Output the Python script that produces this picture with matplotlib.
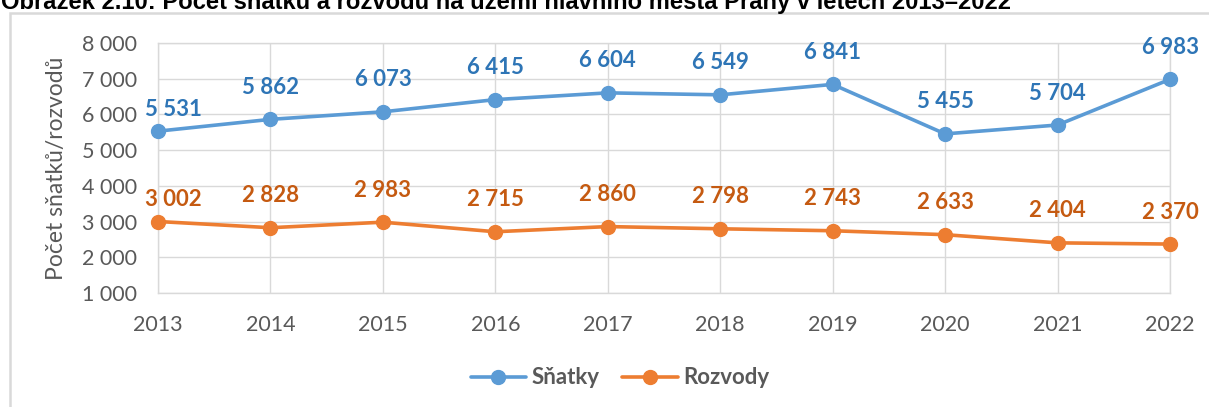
import matplotlib.pyplot as plt
from matplotlib.patches import Rectangle

years = [2013, 2014, 2015, 2016, 2017, 2018, 2019, 2020, 2021, 2022]
snatky = [5531, 5862, 6073, 6415, 6604, 6549, 6841, 5455, 5704, 6983]
rozvody = [3002, 2828, 2983, 2715, 2860, 2798, 2743, 2633, 2404, 2370]
yticks = [1000, 2000, 3000, 4000, 5000, 6000, 7000, 8000]

title = "Obrázek 2.10: Počet sňatků a rozvodů na území hlavního města Prahy v letech 2013–2022"
ylabel = "Počet sňatků/rozvodů"

plt.rcParams['font.family'] = ['Lato', 'DejaVu Sans']

def fmt(v):
    return f"{v:,}".replace(",", " ")

W, H = 1209, 407
fig = plt.figure(figsize=(W / 100, H / 100), dpi=100)
ax = fig.add_axes([158 / W, 1 - 293 / H, (1170 - 158) / W, (293 - 43) / H])

gray = '#595959'
grid_c = '#D9D9D9'
series = [
    ("Sňatky", snatky, '#5B9BD5', '#2E75B6'),
    ("Rozvody", rozvody, '#ED7D31', '#C55A11'),
]
for name, vals, lc, tc in series:
    ax.plot(years, vals, color=lc, lw=2.6, marker='o', ms=10, label=name,
            solid_capstyle='round', clip_on=False, zorder=3)
    for i, (x, v) in enumerate(zip(years, vals)):
        # first labels sit a bit lower and pushed inside the plot
        off = (11, 15.5) if i == 0 else (0, 23)
        ax.annotate(fmt(v), (x, v), xytext=off, textcoords='offset points',
                    ha='center', va='center', color=tc, fontsize=16,
                    fontweight='bold', annotation_clip=False)

ax.set_xlim(years[0], years[-1])
ax.set_ylim(yticks[0], yticks[-1])
ax.set_xticks(years)
ax.set_yticks(yticks)
ax.set_yticklabels([fmt(t) for t in yticks])
ax.tick_params(length=0, labelsize=15.5, labelcolor=gray)
ax.tick_params(axis='x', pad=16)
ax.tick_params(axis='y', pad=15)
ax.grid(True, color=grid_c, lw=1)
for s in ax.spines.values():
    s.set_color(grid_c)
    s.set_linewidth(1)
ax.set_axisbelow(True)

ax.set_ylabel(ylabel, fontsize=16.5, color=gray, labelpad=11)

leg = ax.legend(loc='center', bbox_to_anchor=(620 / W, 1 - 378 / H),
                bbox_transform=fig.transFigure, ncol=2, frameon=False,
                handlelength=2.5, handletextpad=0.25, columnspacing=1.0,
                prop={'weight': 'bold', 'size': 16})
for t in leg.get_texts():
    t.set_color(gray)

fig.patches.append(Rectangle((10 / W, -0.1), 1.0, 1 - 13 / H + 0.1,
                             transform=fig.transFigure, fill=False,
                             ec=grid_c, lw=1.8))

# title is cut off at the top edge, as in the source
t = fig.text(1 / W, 1 - 9 / H, title, ha='left', va='baseline', fontsize=17,
             fontweight='bold', color='black',
             family=['Liberation Sans', 'DejaVu Sans'])
r = fig.canvas.get_renderer()
w = t.get_window_extent(r).width
t.set_fontsize(17 * 1010 / w)

fig.savefig('out.png', dpi=100)
